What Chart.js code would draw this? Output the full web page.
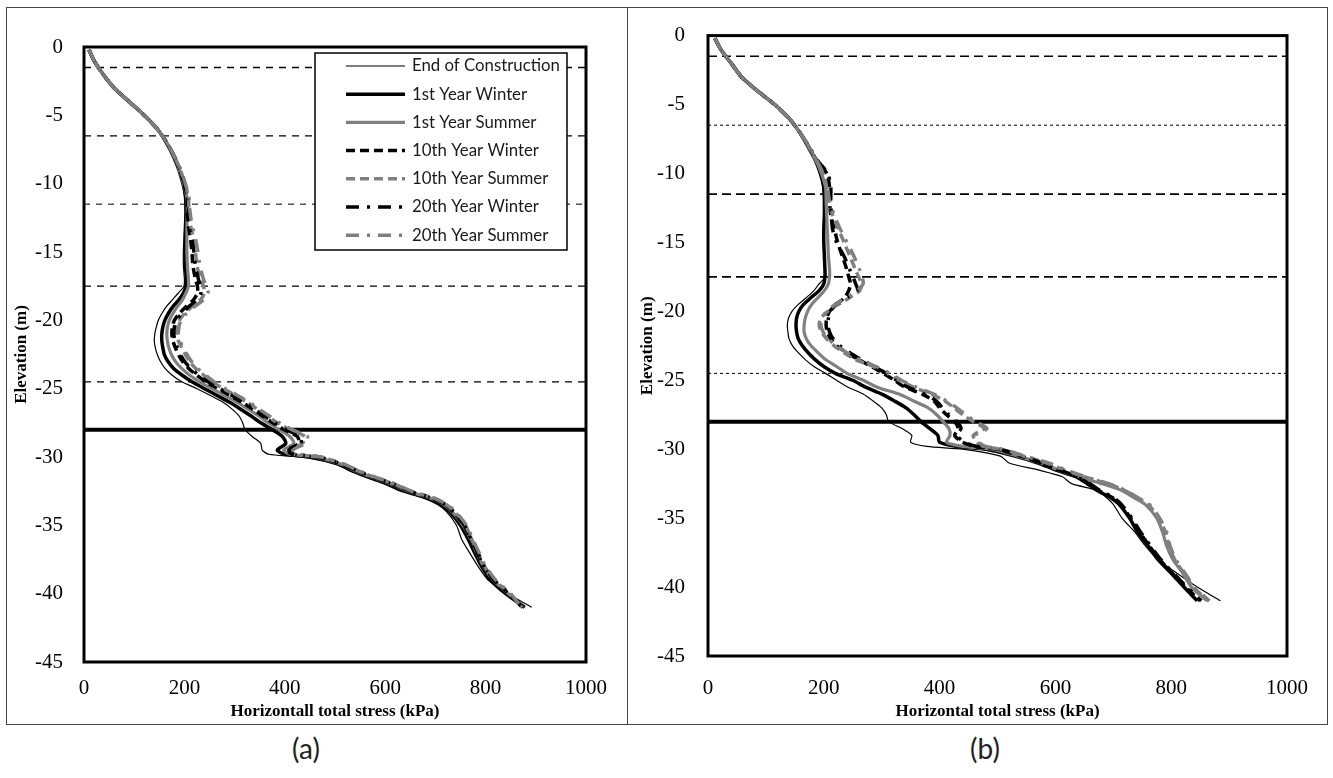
<!DOCTYPE html>
<html><head><meta charset="utf-8">
<script src="https://cdn.jsdelivr.net/npm/chart.js@4.4.1/dist/chart.umd.min.js"></script>
<style>
html,body{margin:0;padding:0;background:#fff;}
#page{position:relative;width:1333px;height:778px;overflow:hidden;background:#fff;}
.panel{position:absolute;border:1px solid #444;box-sizing:border-box;}
.cap{position:absolute;font-family:Lato,'Open Sans',sans-serif;font-size:28px;color:#222;transform:translateX(-50%);line-height:34px;}
.wrap{position:absolute;top:0;}
</style></head><body>
<div id="page">
<div class="panel" style="left:6px;top:7px;width:622px;height:718px"></div>
<div class="panel" style="left:627px;top:7px;width:701px;height:718px"></div>
<div class="wrap" style="left:0;width:628px;height:725px"><canvas id="ca" width="628" height="725"></canvas></div>
<div class="wrap" style="left:628px;width:700px;height:725px"><canvas id="cb" width="700" height="725"></canvas></div>
<div class="cap" style="left:306px;top:731px">(a)</div>
<div class="cap" style="left:985px;top:731px">(b)</div>
</div>
<script>
const elevation = [-0.2,-1,-2,-3,-4,-5,-6,-7,-8,-9,-10,-11,-12,-13,-14,-15,-16,-17,-17.5,-18,-18.5,-19,-19.5,-20,-20.5,-21,-21.5,-22,-22.5,-23,-23.5,-24,-24.5,-25,-25.5,-26,-26.5,-27,-27.5,-28,-28.5,-29,-29.5,-29.8,-30,-30.5,-31,-31.5,-32,-32.5,-33,-33.5,-34,-35,-36,-37,-38,-39,-40,-41];
const seriesNames = ['End of Construction','1st Year Winter','1st Year Summer','10th Year Winter','10th Year Summer','20th Year Winter','20th Year Summer'];

// Chart (a) horizontal total stress (kPa)
const eocA = [10,20,38,60,90,120,146,164,178,189,196,200,201,200,199,198,198,200,199,188,176,164,155,148,144,141,140,142,146,152,161,175,195,225,252,277,295,309,316,321,335,352,355,368,430,500,528,562,600,630,675,705,722,742,752,768,785,805,845,892];
const w1A = [10,20,38,60,90,120,146,164,178,189,197,203,204,203,202,202,202,204,203,198,189,177,168,161,157,155,155,157,160,167,178,195,215,240,265,290,312,333,352,375,395,402,385,400,450,505,535,570,610,640,685,712,728,750,765,778,792,810,840,878];
const s1A = [10,20,38,60,90,120,146,165,179,190,198,205,206,205,205,205,206,208,208,203,196,186,177,170,166,165,166,169,174,182,194,210,230,255,280,305,327,348,367,388,410,418,398,410,460,510,540,575,615,645,690,718,733,755,770,782,796,815,845,875];
const w10A = [10,20,38,60,90,120,146,165,179,191,199,206,206,208,212,215,217,222,226,226,218,203,190,180,176,175,177,182,188,196,208,224,243,267,291,315,336,356,376,399,425,428,405,415,465,512,542,577,617,647,692,720,735,757,770,783,797,816,846,874];
const s10A = [10,20,38,60,90,120,146,165,180,192,201,208,209,212,218,222,225,232,238,240,232,215,200,190,186,185,188,195,202,210,222,238,255,278,302,325,345,365,385,410,440,435,412,420,470,515,545,580,620,650,695,722,738,760,772,785,798,818,848,872];
const w20A = [10,20,38,60,90,120,146,165,180,192,200,207,208,210,215,219,222,228,232,233,225,209,195,184,180,179,181,186,192,200,212,228,247,271,295,319,340,360,380,403,430,432,408,418,467,513,543,578,618,648,693,721,736,758,771,784,797,817,847,873];
const s20A = [10,20,38,60,90,120,146,165,180,193,202,209,211,215,222,227,231,238,244,247,238,220,204,193,189,188,191,198,205,214,226,242,259,282,306,329,349,369,389,414,445,440,416,424,472,517,547,582,622,652,697,724,740,762,774,787,800,820,850,871];

// Chart (b)
const eocB = [12,22,40,58,85,115,140,158,172,185,194,198,200,200,200,200,201,203,203,192,183,170,156,145,139,137,138,140,146,156,168,183,203,222,242,268,285,300,308,312,335,352,350,378,440,505,520,570,612,628,673,688,700,715,737,755,777,810,845,885];
const w1B = [12,22,40,58,85,115,140,158,172,185,194,200,201,201,200,200,201,202,202,200,192,178,165,157,153,152,153,156,163,173,185,200,220,250,272,300,322,342,356,368,383,397,400,430,480,530,570,600,636,655,672,695,710,728,742,760,777,800,822,845];
const s1B = [12,22,40,58,85,115,140,158,173,186,196,203,204,205,206,207,208,210,210,208,201,190,179,172,168,166,166,170,178,190,203,222,240,268,292,330,355,380,395,406,416,418,412,440,490,535,575,605,640,680,715,735,755,775,785,792,803,820,835,862];
const w10B = [12,22,40,58,85,115,140,158,173,187,205,210,210,212,218,224,232,240,243,246,243,236,222,210,205,204,206,212,222,240,260,282,303,322,340,370,390,400,412,426,432,426,440,460,500,540,575,605,638,658,675,698,712,730,745,762,780,802,825,850];
const s10B = [12,22,40,58,85,115,140,158,173,186,198,205,208,215,225,235,245,255,260,265,262,245,225,207,195,192,196,205,218,235,255,285,310,330,355,385,409,425,440,458,477,458,465,475,505,545,585,615,650,690,720,740,760,778,790,796,806,822,838,865];
const w20B = [12,22,40,58,85,115,140,158,174,188,207,212,212,213,215,222,235,245,250,255,258,240,220,212,208,207,210,216,228,245,265,287,307,326,345,374,394,405,416,430,437,430,444,465,503,542,577,607,640,660,677,700,714,732,747,764,782,804,827,852];
const s20B = [12,22,40,58,85,115,140,158,174,187,199,206,210,218,228,240,252,262,266,268,258,240,220,205,197,195,199,208,222,240,262,290,314,334,360,390,412,430,445,462,482,462,468,480,508,548,588,618,652,692,722,742,762,780,792,798,808,824,840,866];

const layerLevels = [-1.5,-6.5,-11.5,-17.5,-24.5];
const bedrockLevel = -28;
const xTicks = [0,200,400,600,800,1000];
const yTicks = [0,-5,-10,-15,-20,-25,-30,-35,-40,-45];

const styles = [
  {color:'#000', width:1.2, dash:[]},
  {color:'#000', width:3.5, dash:[]},
  {color:'#808080', width:3.2, dash:[]},
  {color:'#000', width:3.5, dash:[9,5]},
  {color:'#808080', width:3.5, dash:[9,5]},
  {color:'#000', width:3.5, dash:[13,8,3,8]},
  {color:'#808080', width:3.5, dash:[13,8,3,8]}
];
const levelStylesA = [{w:1.4,d:[7,6]},{w:1.4,d:[7,6]},{w:1,d:[6,6]},{w:1.4,d:[7,6]},{w:1.4,d:[7,6]}];
const levelStylesB = [{w:1.4,d:[9,5]},{w:1,d:[3,3]},{w:1.6,d:[9,5]},{w:1.6,d:[9,5]},{w:1,d:[3,3]}];

function pts(xs){ return xs.map((x,i)=>({x:x, y:elevation[i]})); }

function buildDatasets(seriesArr, levelStyles){
  const ds = [];
  seriesArr.forEach((xs,i)=>{
    ds.push({label:seriesNames[i], data:pts(xs), showLine:true, borderColor:styles[i].color,
      borderWidth:styles[i].width, borderDash:styles[i].dash, pointRadius:0, tension:0.25,
      fill:false, order:10-i, isSeries:true});
  });
  layerLevels.forEach((lv,k)=>{
    ds.push({label:'level', data:[{x:0,y:lv},{x:1000,y:lv}], showLine:true, borderColor:'#000',
      borderWidth:levelStyles[k].w, borderDash:levelStyles[k].d, pointRadius:0, order:20});
  });
  ds.push({label:'bedrock', data:[{x:0,y:bedrockLevel},{x:1000,y:bedrockLevel}], showLine:true,
    borderColor:'#000', borderWidth:4, borderDash:[], pointRadius:0, order:20});
  return ds;
}

const serif = '"Liberation Serif", "Times New Roman", Times, serif';
Chart.defaults.font.family = serif;
Chart.defaults.color = '#000';

const framePlugin = {
  id:'frame',
  afterDraw(chart, args, opts){
    const ctx = chart.ctx, a = chart.chartArea;
    ctx.save();
    ctx.setLineDash([]);
    ctx.strokeStyle = '#000';
    ctx.lineWidth = 3;
    ctx.strokeRect(a.left, a.top, a.right - a.left, a.bottom - a.top);
    if (opts.legend){
      const L = opts.legend;
      ctx.fillStyle = '#fff';
      ctx.fillRect(L.x, L.y, L.w, L.h);
      ctx.lineWidth = 1.5;
      ctx.strokeRect(L.x, L.y, L.w, L.h);
      const series = chart.data.datasets.filter(d=>d.isSeries);
      ctx.font = L.font;
      ctx.textBaseline = 'middle';
      ctx.textAlign = 'left';
      series.forEach((d,i)=>{
        const y = L.y + L.first + i*L.step;
        ctx.beginPath();
        ctx.lineWidth = d.borderWidth;
        ctx.strokeStyle = d.borderColor;
        ctx.setLineDash(d.borderDash || []);
        ctx.moveTo(L.x + L.s0, y);
        ctx.lineTo(L.x + L.s1, y);
        ctx.stroke();
        ctx.setLineDash([]);
        ctx.fillStyle = '#1a1a1a';
        ctx.fillText(d.label, L.x + L.tx, y);
      });
    }
    ctx.restore();
  }
};

function makeChart(id, seriesArr, levelStyles, cfg){
  return new Chart(document.getElementById(id), {
    type:'scatter',
    data:{datasets:buildDatasets(seriesArr, levelStyles)},
    options:{
      responsive:false, animation:false,
      layout:{padding:{top:cfg.padTop, right:cfg.padRight, left:0, bottom:0}},
      plugins:{legend:{display:false}, tooltip:{enabled:false}, frame:{legend:cfg.legend}},
      scales:{
        x:{type:'linear', min:0, max:1000,
          afterBuildTicks:s=>{ s.ticks = xTicks.map(v=>({value:v})); },
          afterFit:s=>{ s.height = cfg.xh; },
          grid:{display:false, drawTicks:false}, border:{display:false},
          ticks:{font:{family:serif, size:21}, color:'#000', padding:cfg.xpad, maxRotation:0, autoSkip:false, callback:v=>String(v)},
          title:{display:true, text:cfg.xTitle, color:'#000', font:{family:serif, size:17, weight:'bold'}, padding:{top:0,bottom:cfg.xTitlePad}}
        },
        y:{type:'linear', min:-45, max:0,
          afterBuildTicks:s=>{ s.ticks = yTicks.map(v=>({value:v})); },
          afterFit:s=>{ s.width = cfg.yw; },
          grid:{display:false, drawTicks:false}, border:{display:false},
          ticks:{font:{family:serif, size:21}, color:'#000', padding:cfg.ypad, autoSkip:false, callback:v=>String(v)},
          title:{display:true, text:'Elevation (m)', color:'#000', font:{family:serif, size:17, weight:'bold'}, padding:{top:cfg.yTitlePad, bottom:0}}
        }
      }
    },
    plugins:[framePlugin]
  });
}

makeChart('ca', [eocA,w1A,s1A,w10A,s10A,w20A,s20A], levelStylesA, {
  padTop:47, padRight:42, xh:63, yw:84, xpad:14, ypad:21, xTitlePad:3, yTitlePad:11,
  xTitle:'Horizontall total stress (kPa)',
  legend:{x:315, y:53, w:252, h:197, first:13, step:28.2, s0:31, s1:90, tx:97, font:"16.8px Lato, 'Open Sans', sans-serif"}
});
makeChart('cb', [eocB,w1B,s1B,w10B,s10B,w20B,s20B], levelStylesB, {
  padTop:28, padRight:36, xh:69, yw:80, xpad:20, ypad:23, xTitlePad:3, yTitlePad:9,
  xTitle:'Horizontal total stress (kPa)', legend:null
});
</script>
</body></html>
